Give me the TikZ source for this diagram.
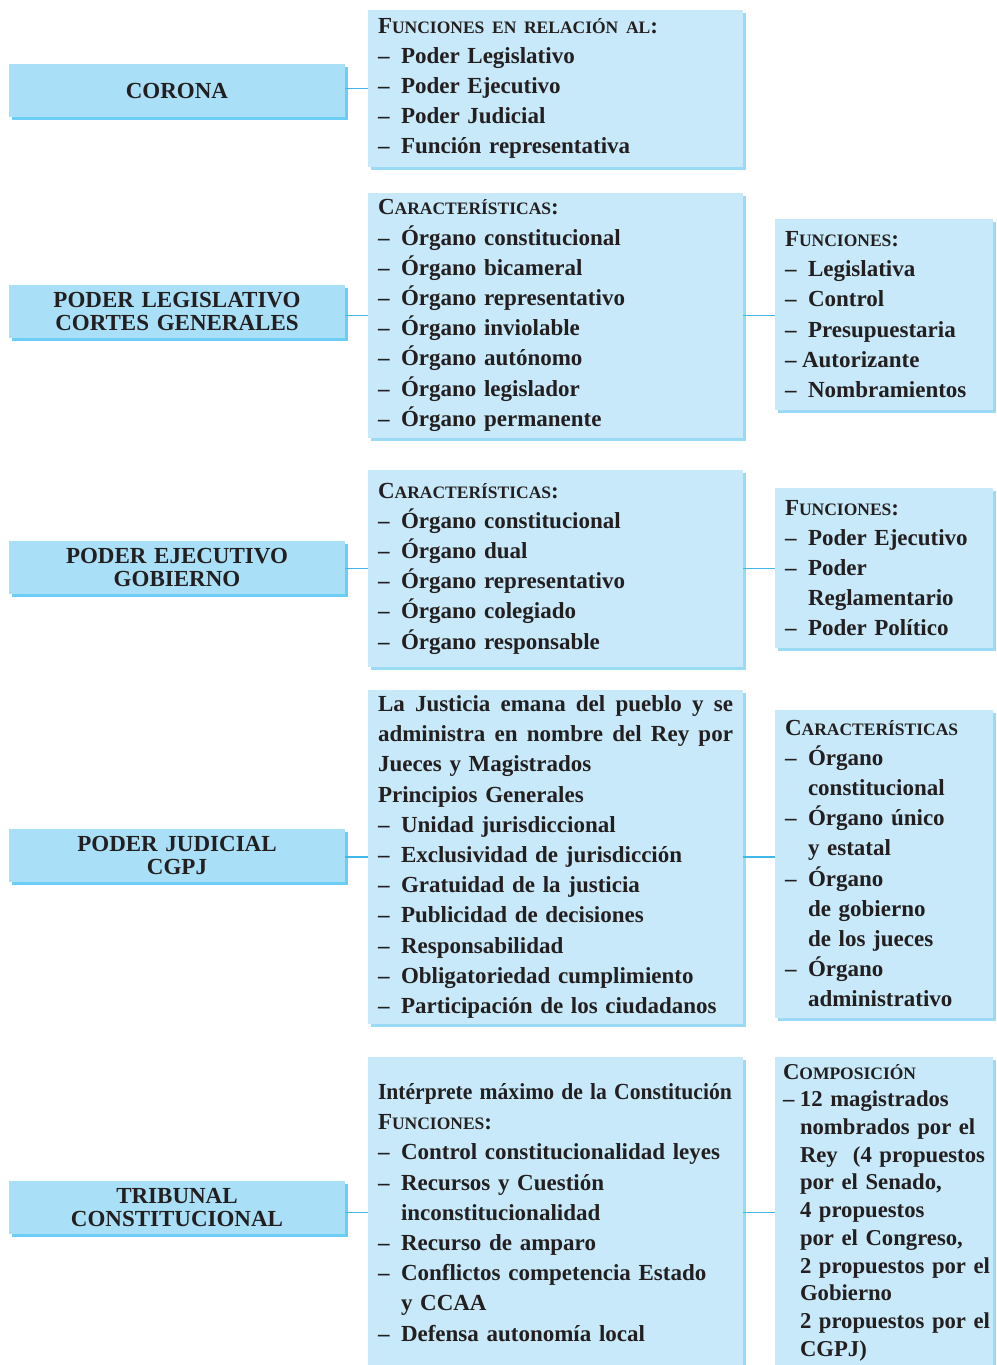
\documentclass[tikz,border=0pt]{standalone}
\usepackage{fontspec}
\setmainfont{Liberation Serif}
\usetikzlibrary{shadows}

\definecolor{lfill}{RGB}{170,224,247}
\definecolor{lshade}{RGB}{108,205,245}
\definecolor{mfill}{RGB}{199,233,249}
\definecolor{mshade}{RGB}{155,218,245}
\definecolor{linkc}{RGB}{64,183,232}
\definecolor{ink}{RGB}{35,31,32}

\setlength{\parindent}{0pt}
\newcommand{\smc}[1]{{\fontsize{17.5}{20}\selectfont #1}}
\newcommand{\itm}[1]{\mbox{\makebox[23pt][l]{–}#1}}
\newcommand{\itmb}[1]{\mbox{\makebox[17pt][l]{–}#1}}
\newcommand{\cnt}[1]{\mbox{\hspace*{23pt}#1}}
\newcommand{\cntb}[1]{\mbox{\hspace*{17pt}#1}}
\newcommand{\jst}[1]{\leavevmode\hbox to 355pt{#1}}
\newcommand{\gap}{\hfill\ }

\tikzset{
  lbox/.style={fill=lfill, text=ink, minimum width=336pt, minimum height=53pt,
    text width=320pt, align=center, inner sep=0pt,
    font=\fontsize{23}{23.3}\selectfont\bfseries,
    drop shadow={shadow xshift=3pt, shadow yshift=-3pt, fill=lshade, opacity=1}},
  mbox/.style={fill=mfill, text=ink, minimum width=375pt, text width=355pt,
    inner xsep=10pt, inner ysep=2pt, align=left,
    font=\fontsize{23}{30.2}\selectfont\bfseries,
    drop shadow={shadow xshift=3pt, shadow yshift=-3pt, fill=mshade, opacity=1}},
  rbox/.style={mbox, minimum width=218pt, text width=198pt},
  link/.style={draw=linkc, line width=1.2pt}
}

\begin{document}
\begin{tikzpicture}[x=1pt,y=-1pt]
\useasboundingbox (0,0) rectangle (996,1365);

%Left column: organos
\node[lbox] (corona) at (177,90.5) {CORONA};
\node[lbox] (legis) at (177,311.5) {PODER LEGISLATIVO\\CORTES GENERALES};
\node[lbox] (ejec) at (177,567.5) {PODER EJECUTIVO\\GOBIERNO};
\node[lbox] (judic) at (177,855.5) {PODER JUDICIAL\\CGPJ};
\node[lbox] (tribu) at (177,1207.5) {TRIBUNAL\\CONSTITUCIONAL};

%Middle column
\node[mbox, minimum height=157pt] (coronaFun) at (555.5,88.5) {%
  F\smc{UNCIONES EN RELACIÓN AL}:\\
  \itm{Poder Legislativo}\\
  \itm{Poder Ejecutivo}\\
  \itm{Poder Judicial}\\
  \itm{Función representativa}};
\node[mbox, minimum height=245pt] (legisCar) at (555.5,315.5) {%
  C\smc{ARACTERÍSTICAS}:\\
  \itm{Órgano constitucional}\\
  \itm{Órgano bicameral}\\
  \itm{Órgano representativo}\\
  \itm{Órgano inviolable}\\
  \itm{Órgano autónomo}\\
  \itm{Órgano legislador}\\
  \itm{Órgano permanente}};
\node[mbox, minimum height=197pt] (ejecCar) at (555.5,568.5) {%
  C\smc{ARACTERÍSTICAS}:\\
  \itm{Órgano constitucional}\\
  \itm{Órgano dual}\\
  \itm{Órgano representativo}\\
  \itm{Órgano colegiado}\\
  \itm{Órgano responsable}};
\node[mbox, minimum height=334pt] (judicPrin) at (555.5,857) {%
  \jst{La\gap Justicia\gap emana\gap del\gap pueblo\gap y\gap se}\\
  \jst{administra\gap en\gap nombre\gap del\gap Rey\gap por}\\
  Jueces y Magistrados\\
  Principios Generales\\
  \itm{Unidad jurisdiccional}\\
  \itm{Exclusividad de jurisdicción}\\
  \itm{Gratuidad de la justicia}\\
  \itm{Publicidad de decisiones}\\
  \itm{Responsabilidad}\\
  \itm{Obligatoriedad cumplimiento}\\
  \itm{Participación de los ciudadanos}};
\node[mbox, minimum height=311pt] (tribuFun) at (555.5,1212.5) {%
  \scalebox{0.94}[1]{Intérprete máximo de la Constitución}\\
  F\smc{UNCIONES}:\\
  \itm{Control constitucionalidad leyes}\\
  \itm{Recursos y Cuestión}\\
  \cnt{inconstitucionalidad}\\
  \itm{Recurso de amparo}\\
  \itm{Conflictos competencia Estado}\\
  \cnt{y CCAA}\\
  \itm{Defensa autonomía local}};

%Right column
\node[rbox, minimum height=191pt] (legisFun) at (884,314.5) {%
  F\smc{UNCIONES}:\\
  \itm{Legislativa}\\
  \itm{Control}\\
  \itm{Presupuestaria}\\
  \itmb{Autorizante}\\
  \itm{Nombramientos}};
\node[rbox, minimum height=160pt] (ejecFun) at (884,568) {%
  F\smc{UNCIONES}:\\
  \itm{Poder Ejecutivo}\\
  \itm{Poder}\\
  \cnt{Reglamentario}\\
  \itm{Poder Político}};
\node[rbox, minimum height=308pt] (judicCar) at (884,863.5) {%
  C\smc{ARACTERÍSTICAS}\\
  \itm{Órgano}\\
  \cnt{constitucional}\\
  \itm{Órgano único}\\
  \cnt{y estatal}\\
  \itm{Órgano}\\
  \cnt{de gobierno}\\
  \cnt{de los jueces}\\
  \itm{Órgano}\\
  \cnt{administrativo}};
\node[rbox, minimum height=311pt, inner xsep=8pt, text width=202pt,
  font=\fontsize{22.7}{27.7}\selectfont\bfseries] (tribuComp) at (884,1212.5) {%
  C\smc{OMPOSICIÓN}\\
  \itmb{12 magistrados}\\
  \cntb{nombrados por el}\\
  \cntb{Rey\ \ (4 propuestos}\\
  \cntb{por el Senado,}\\
  \cntb{4 propuestos}\\
  \cntb{por el Congreso,}\\
  \cntb{2 propuestos por el}\\
  \cntb{Gobierno}\\
  \cntb{2 propuestos por el}\\
  \cntb{CGPJ)}};

%Connectors
\draw[link] (coronaFun.west -| corona.east) -- (coronaFun.west);
\draw[link] (legisCar.west -| legis.east) -- (legisCar.west);
\draw[link] (ejecCar.west -| ejec.east) -- (ejecCar.west);
\draw[link] (judicPrin.west -| judic.east) -- (judicPrin.west);
\draw[link] (tribuFun.west -| tribu.east) -- (tribuFun.west);
\draw[link] (legisCar.east) -- (legisCar.east -| legisFun.west);
\draw[link] (ejecCar.east) -- (ejecCar.east -| ejecFun.west);
\draw[link] (judicPrin.east) -- (judicPrin.east -| judicCar.west);
\draw[link] (tribuFun.east) -- (tribuFun.east -| tribuComp.west);

\end{tikzpicture}
\end{document}
